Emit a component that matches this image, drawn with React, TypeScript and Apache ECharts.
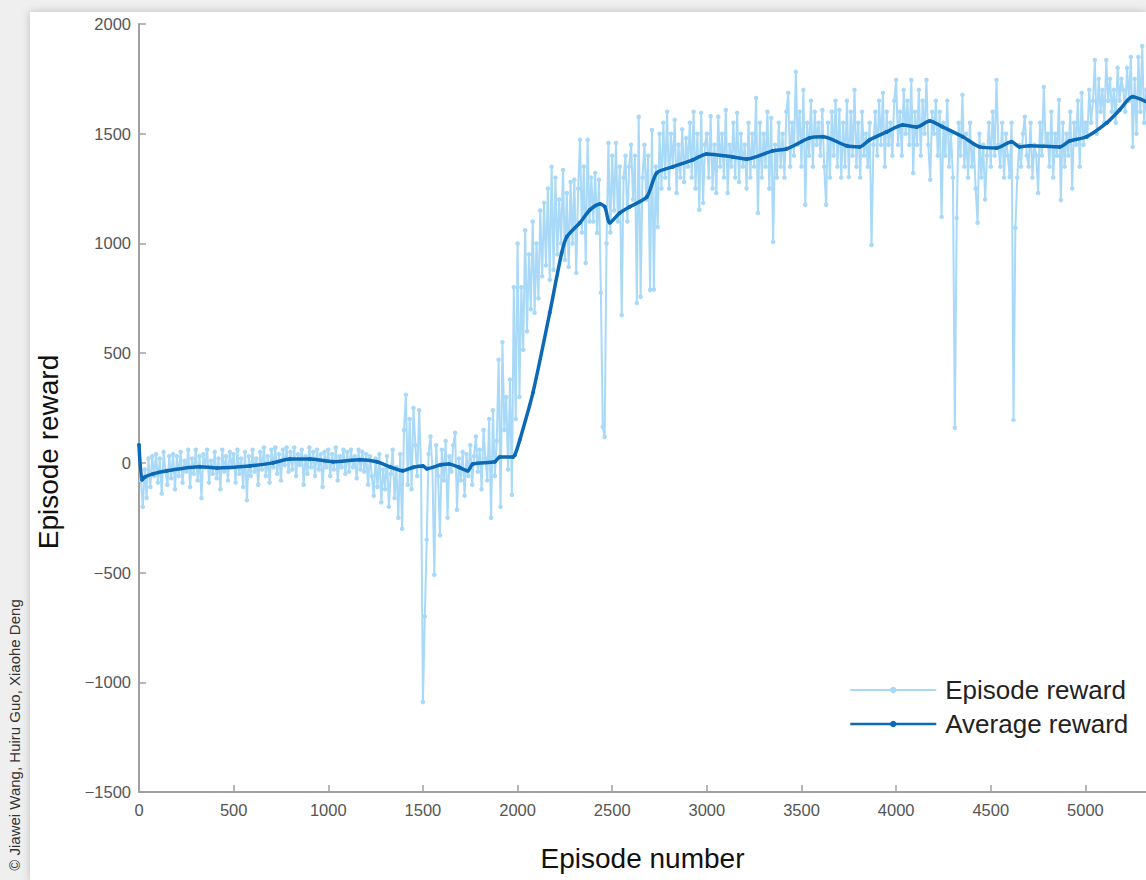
import React, { useEffect, useRef } from "react";
import * as echarts from "echarts";

// Episode reward, one value every 10 episodes (episode = index * 10)
const episodeStep = 10;
const episodeReward: number[] = [
  82, -80, -200, -30, -160, 20, -110, 30, -60, 40,
  -90, 20, -140, 50, -40, -100, 30, -70, 40, -120,
  30, -60, 50, -90, 10, -40, 60, -110, 20, -50,
  60, -80, 30, -160, 40, -20, 60, -90, 10, -50,
  50, -70, 20, -120, 60, -40, 30, -80, 50, -20,
  40, -90, 60, -50, 20, -110, 50, -170, 30, -60,
  60, -40, 20, -100, 50, -30, 70, -60, 30, -90,
  60, -20, 70, -50, 40, -80, 60, -10, 70, -40,
  50, -30, 70, -60, 40, -10, 60, -100, 30, -50,
  70, -20, 50, -60, 60, -30, 40, -110, 50, -20,
  60, -60, 40, -30, 70, -80, 30, -20, 60, -50,
  50, -40, 60, -20, 30, -70, 60, -30, 50, -40,
  40, -100, 30, -60, -150, 20, -110, 40, -180, -30,
  -120, 30, -200, -50, 60, -160, -20, -250, 40, -300,
  150, 310, -100, 200, -120, 250, 80, -60, 240, -20,
  -1090, -700, -350, 40, 120, -20, -510, 80, -60, -330,
  60, -80, 100, -250, 30, -40, 80, 137, -214, 20,
  -80, 50, -150, 40, -60, 80, -100, 30, 120, -40,
  60, -120, 150, 20, -80, 200, -250, 240, -60, 100,
  470, -200, 550, 150, 300, -30, 380, -146, 800, 200,
  1000, 300, 800, 515, 1060, 600, 950, 700, 1100, 684,
  1000, 750, 1150, 850, 1185, 900, 1250, 834, 1349, 880,
  1300, 950, 1200, 1000, 1335, 925, 1230, 893, 1280, 1000,
  1290, 866, 1250, 1472, 1050, 1350, 911, 1472, 1100, 1300,
  1100, 1321, 1048, 1290, 775, 164, 118, 1000, 1458, 1050,
  1400, 1150, 1458, 1100, 1350, 674, 1300, 1400, 1100, 1350,
  1450, 1200, 1400, 729, 1577, 757, 1300, 1450, 1200, 1400,
  788, 1517, 790, 1350, 1075, 1500, 1250, 1550, 1300, 1600,
  1250, 1500, 1350, 1563, 1230, 1450, 1300, 1520, 1280, 1480,
  1350, 1550, 1300, 1600, 1250, 1500, 1153, 1595, 1185, 1450,
  1500, 1300, 1580, 1250, 1450, 1230, 1577, 1350, 1500, 1300,
  1608, 1230, 1450, 1350, 1550, 1300, 1595, 1280, 1500, 1350,
  1450, 1250, 1550, 1300, 1500, 1350, 1663, 1139, 1550, 1300,
  1500, 1350, 1600, 1250, 1572, 1007, 1450, 1300, 1550, 1350,
  1500, 1300, 1600, 1686, 1350, 1550, 1400, 1782, 1450, 1600,
  1350, 1700, 1176, 1550, 1400, 1650, 1350, 1600, 1450, 1550,
  1400, 1608, 1350, 1176, 1550, 1300, 1600, 1400, 1650, 1350,
  1608, 1300, 1550, 1350, 1650, 1303, 1600, 1400, 1700, 1350,
  1550, 1300, 1600, 1400, 1500, 1350, 1550, 993, 1450, 1600,
  1400, 1650, 1450, 1686, 1350, 1600, 1450, 1550, 1400, 1650,
  1745, 1450, 1600, 1400, 1700, 1500, 1650, 1450, 1745, 1321,
  1600, 1450, 1700, 1400, 1650, 1500, 1745, 1450, 1290, 1600,
  1500, 1650, 1400, 1600, 1121, 1550, 1400, 1650, 1350, 1500,
  1300, 160, 1116, 1550, 1400, 1677, 1350, 1500, 1300, 1550,
  1350, 1450, 1250, 1094, 1500, 1300, 1450, 1200, 1400, 1550,
  1350, 1600, 1400, 1745, 1450, 1350, 1550, 1300, 1500, 1400,
  1303, 1550, 196, 1071, 1300, 1450, 1350, 1500, 1577, 1400,
  1350, 1550, 1300, 1450, 1400, 1230, 1550, 1400, 1713, 1450,
  1500, 1350, 1600, 1300, 1500, 1400, 1654, 1198, 1550, 1350,
  1500, 1400, 1600, 1250, 1550, 1450, 1650, 1350, 1686, 1450,
  1550, 1486, 1700, 1550, 1650, 1836, 1500, 1750, 1600, 1700,
  1550, 1836, 1650, 1750, 1600, 1700, 1550, 1800, 1650, 1750,
  1700, 1600, 1800, 1650, 1850, 1440, 1750, 1500, 1850, 1600,
  1900, 1550, 1700,
];

// Average reward (moving average), sampled at the episodes below
const averageEpisodes: number[] = [
  0, 16, 32, 74, 148, 322, 412, 586, 708, 797, 903, 1025, 1167, 1257, 1325,
  1394, 1450, 1500, 1521, 1595, 1637, 1690, 1737, 1764, 1880, 1906, 1975, 1986,
  2012, 2081, 2170, 2233, 2260, 2329, 2382, 2435, 2461, 2487, 2540, 2593, 2683,
  2735, 2820, 2926, 2999, 3137, 3211, 3348, 3422, 3543, 3612, 3739, 3807, 3860,
  3950, 4035, 4109, 4177, 4246, 4352, 4441, 4531, 4610, 4652, 4705, 4864, 4917,
  5006, 5112, 5180, 5249, 5323,
];
const averageReward: number[] = [
  82, -77, -64, -50, -36, -18, -23, -14, 0, 18, 18, 5, 14, 5, -18,
  -36, -20, -14, -27, -9, -5, -20, -36, -5, 5, 27, 27, 36,
  105, 319, 684, 957, 1030, 1094, 1153, 1180, 1167, 1094, 1139, 1167, 1212,
  1321, 1349, 1381, 1408, 1394, 1385, 1422, 1431, 1481, 1486, 1445, 1440, 1472,
  1508, 1540, 1531, 1558, 1531, 1486, 1440, 1435, 1463, 1440, 1445, 1440, 1467,
  1486, 1549, 1608, 1668, 1645,
];

const yTicks = { min: -1500, max: 2000, interval: 500 };
const xTicks = { min: 0, max: 5320, interval: 500 };

const seriesNames = ["Episode reward", "Average reward"];
const xAxisTitle = "Episode number";
const yAxisTitle = "Episode reward";
const credit = "© Jiawei Wang, Huiru Guo, Xiaohe Deng";

const LIGHT = "#a9d9f8";
const DARK = "#0b69b6";
const FONT = "Liberation Sans, Arial, sans-serif";

const fmt = (v: number) => String(v).replace("-", "\u2212");

export default function App() {
  const ref = useRef<HTMLDivElement>(null);

  useEffect(() => {
    if (!ref.current) return;
    const chart = echarts.init(ref.current, undefined, { renderer: "svg" });

    const epData = episodeReward.map((v, i) => [i * episodeStep, v]);
    const avgData = averageReward.map((v, i) => [averageEpisodes[i], v]);

    chart.setOption({
      animation: false,
      textStyle: { fontFamily: FONT },
      grid: { left: 139, top: 24, right: 0, bottom: 88, containLabel: false },
      xAxis: {
        type: "value",
        min: xTicks.min,
        max: xTicks.max,
        interval: xTicks.interval,
        name: xAxisTitle,
        nameLocation: "middle",
        nameGap: 52,
        nameTextStyle: { fontSize: 28, color: "#111", fontFamily: FONT },
        axisLine: { show: true, onZero: false, lineStyle: { color: "#a0a0a0", width: 2 } },
        axisTick: { show: true, inside: true, length: 7, lineStyle: { color: "#a0a0a0", width: 1.5 } },
        axisLabel: {
          color: "#555",
          fontSize: 16.5,
          margin: 9,
          fontFamily: FONT,
          showMaxLabel: false,
          formatter: fmt,
        },
        splitLine: { show: false },
      },
      yAxis: {
        type: "value",
        min: yTicks.min,
        max: yTicks.max,
        interval: yTicks.interval,
        axisLine: { show: true, onZero: false, lineStyle: { color: "#a0a0a0", width: 2 } },
        axisTick: { show: true, inside: true, length: 7, lineStyle: { color: "#a0a0a0", width: 1.5 } },
        axisLabel: { color: "#555", fontSize: 16.5, margin: 8, fontFamily: FONT, formatter: fmt },
        splitLine: { show: false },
      },
      legend: {
        orient: "vertical",
        left: 849,
        top: 677,
        padding: 0,
        itemWidth: 86,
        itemHeight: 8,
        itemGap: 8,
        textStyle: { fontSize: 26, color: "#222", fontFamily: FONT, padding: [0, 0, 0, 4] },
        data: [
          { name: seriesNames[0], itemStyle: { color: LIGHT }, lineStyle: { color: LIGHT, width: 2 } },
          { name: seriesNames[1], itemStyle: { color: DARK }, lineStyle: { color: DARK, width: 2.5 } },
        ],
      },
      graphic: [
        {
          type: "text",
          x: 48,
          y: 452,
          rotation: Math.PI / 2,
          style: {
            text: yAxisTitle,
            fontSize: 28,
            fill: "#111",
            fontFamily: FONT,
            align: "center",
            verticalAlign: "middle",
          },
        },
        {
          type: "text",
          x: 14,
          y: 735,
          rotation: Math.PI / 2,
          style: {
            text: credit,
            fontSize: 15,
            fill: "#333",
            fontFamily: FONT,
            align: "center",
            verticalAlign: "middle",
          },
        },
      ],
      series: [
        {
          name: seriesNames[0],
          type: "line",
          data: epData,
          showAllSymbol: true,
          symbol: "circle",
          symbolSize: 4.5,
          itemStyle: { color: LIGHT },
          lineStyle: { color: LIGHT, width: 2 },
          z: 2,
        },
        {
          name: seriesNames[1],
          type: "line",
          data: avgData,
          smooth: 0.25,
          symbol: "circle",
          symbolSize: 4,
          showAllSymbol: true,
          itemStyle: { color: DARK },
          lineStyle: { color: DARK, width: 3.5 },
          z: 3,
        },
      ],
    });

    return () => chart.dispose();
  }, []);

  return (
    <div style={{ position: "fixed", left: 0, top: 0, width: 1146, height: 880, background: "#efefef", overflow: "hidden" }}>
      <div
        style={{
          position: "absolute",
          left: 30,
          top: 12,
          right: 0,
          bottom: 0,
          background: "#ffffff",
          boxShadow: "0 0 8px rgba(0,0,0,0.22)",
        }}
      />
      <div ref={ref} style={{ position: "absolute", left: 0, top: 0, width: 1146, height: 880 }} />
    </div>
  );
}
